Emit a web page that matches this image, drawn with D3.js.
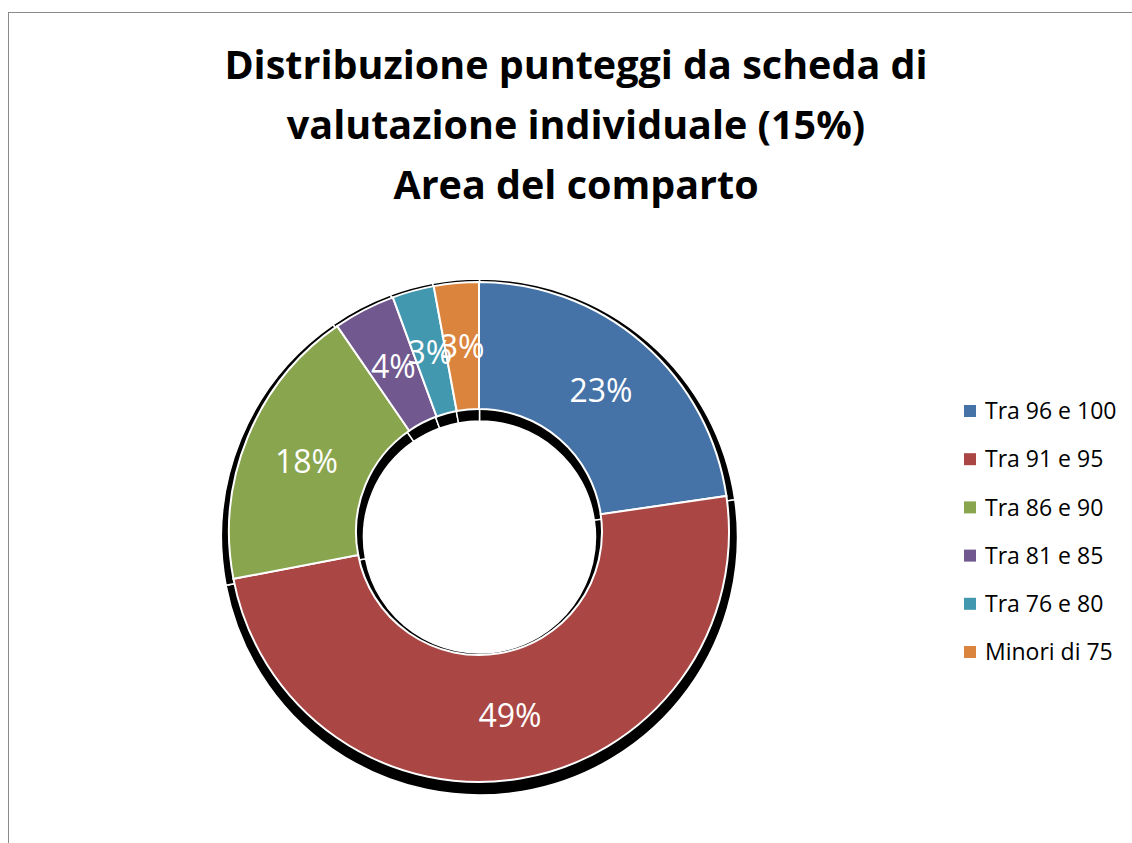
<!DOCTYPE html>
<html>
<head>
<meta charset="utf-8">
<script src="https://cdn.jsdelivr.net/npm/d3@7"></script>
<style>
  body { margin: 0; background: #fff; }
  svg { display: block; font-family: "Open Sans", "Liberation Sans", sans-serif; }
</style>
</head>
<body>
<div id="chart"></div>
<script>
"use strict"

// data (percent of total)
const categories = ["Tra 96 e 100", "Tra 91 e 95", "Tra 86 e 90", "Tra 81 e 85", "Tra 76 e 80", "Minori di 75"];
const values = [22.7, 49.3, 18.4, 4.0, 2.7, 2.9];
const colors = ["#4573a7", "#aa4644", "#89a54e", "#71588f", "#4298af", "#db843d"];
const titleLines = ["Distribuzione punteggi da scheda di", "valutazione individuale (15%)", "Area del comparto"];

const width = 1132, height = 843;
const cx = 479, cy = 532;
const outerR = 250, innerR = 123;

const svg = d3.select("#chart").append("svg")
    .attr("width", width)
    .attr("height", height);

// chart area frame
svg.append("rect")
    .attr("x", 8.5).attr("y", 12.5)
    .attr("width", width + 20).attr("height", height + 20)
    .attr("fill", "none")
    .attr("stroke", "#8a8a8a")
    .attr("stroke-width", 1);

// title
svg.append("text")
    .attr("text-anchor", "middle")
    .attr("font-weight", "bold")
    .attr("font-size", 39.5)
    .attr("fill", "#000")
  .selectAll("tspan")
  .data(titleLines)
  .join("tspan")
    .attr("x", 576)
    .attr("y", (d, i) => 79 + i * 60)
    .text(d => d);

const data = categories.map((c, i) => ({name: c, value: values[i], color: colors[i]}));

const pie = d3.pie().value(d => d.value).sort(null);
const arcs = pie(data);

const arc = d3.arc().innerRadius(innerR).outerRadius(outerR);
const shadowArc = d3.arc().innerRadius(116).outerRadius(258);
const labelArc = d3.arc().innerRadius((innerR + outerR) / 2).outerRadius((innerR + outerR) / 2);

// shadow
svg.append("g")
    .attr("transform", "translate(" + (cx + 0.5) + "," + (cy + 5) + ")")
  .selectAll("path")
  .data(arcs)
  .join("path")
    .attr("d", shadowArc)
    .attr("fill", "#000")
    .attr("stroke", "#fff")
    .attr("stroke-width", 1.5);

// slices
const g = svg.append("g")
    .attr("transform", "translate(" + cx + "," + cy + ")");

g.selectAll("path")
  .data(arcs)
  .join("path")
    .attr("d", arc)
    .attr("fill", d => d.data.color)
    .attr("stroke", "#fff")
    .attr("stroke-width", 2);

const total = d3.sum(values);
g.selectAll("text")
  .data(arcs)
  .join("text")
    .attr("transform", d => "translate(" + labelArc.centroid(d) + ")")
    .attr("text-anchor", "middle")
    .attr("dy", "0.36em")
    .attr("font-size", 32)
    .attr("fill", "#fff")
    .text(d => Math.round(d.data.value / total * 100) + "%");

// legend
const legend = svg.append("g")
    .attr("transform", "translate(964,411)");

const item = legend.selectAll("g")
  .data(data)
  .join("g")
    .attr("transform", (d, i) => "translate(0," + i * 48.2 + ")");

item.append("rect")
    .attr("x", 0).attr("y", -6)
    .attr("width", 12).attr("height", 12)
    .attr("fill", d => d.color);

item.append("text")
    .attr("x", 21)
    .attr("dy", "0.36em")
    .attr("font-size", 23)
    .attr("fill", "#000")
    .text(d => d.name);
</script>
</body>
</html>
